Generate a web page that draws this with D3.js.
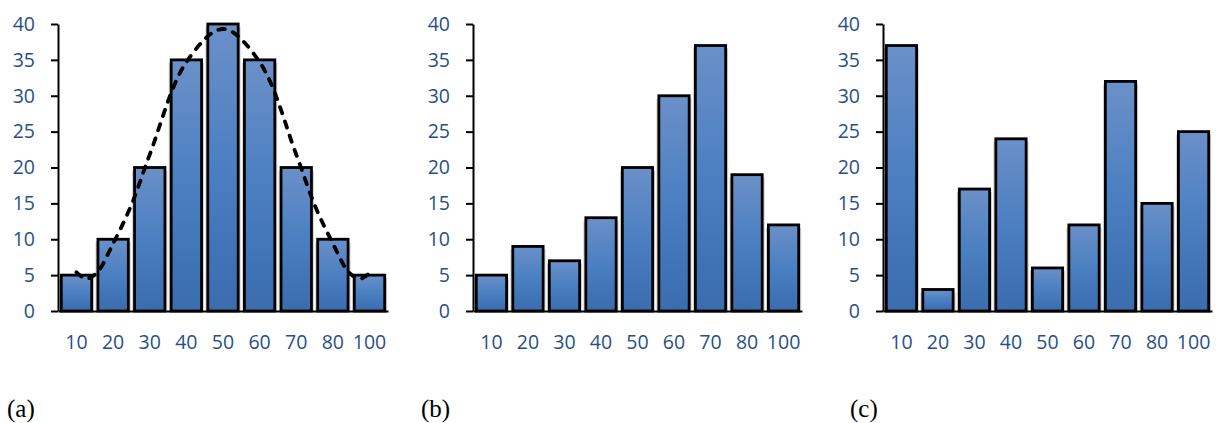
<!DOCTYPE html>
<html>
<head>
<meta charset="utf-8">
<script src="https://cdn.jsdelivr.net/npm/d3@7"></script>
<style>
  html, body { margin: 0; padding: 0; background: #fff; }
  svg { display: block; }
  .tick text { font-family: "Open Sans", sans-serif; font-size: 19.5px; fill: #27508a; }
  .caption { font-family: "Liberation Serif", "Times New Roman", serif; font-size: 25px; fill: #000; }
</style>
</head>
<body>
<div id="chart"></div>
<script>
// ---- data ----
const categories = ['10', '20', '30', '40', '50', '60', '70', '80', '100'];
const valuesA = [5, 10, 20, 35, 40, 35, 20, 10, 5];
const valuesB = [5, 9, 7, 13, 20, 30, 37, 19, 12];
const valuesC = [37, 3, 17, 24, 6, 12, 32, 15, 25];
const yTicks = [0, 5, 10, 15, 20, 25, 30, 35, 40];
const captions = ['(a)', '(b)', '(c)'];

// dashed fit line in panel (a): position in category index units, value
const fitPos  = [0, 0.25, 0.55, 1, 1.5, 2, 3, 4, 5, 6, 6.5, 7, 7.45, 7.75, 8];
const fitVals = [5.4, 4.5, 5.3, 9.4, 14.8, 21.8, 34.7, 39.3, 34.7, 21.8, 14.8, 9.4, 5.3, 4.5, 5.3];

const W = 1221, H = 423;
const plotTop = 24, plotBottom = 311;

const panels = [
  { values: valuesA, left: 58,  right: 388, capX: 7,   fit: true },
  { values: valuesB, left: 473, right: 802, capX: 421, fit: false },
  { values: valuesC, left: 883, right: 1212, capX: 850, fit: false },
];

const svg = d3.select('#chart').append('svg')
  .attr('width', W)
  .attr('height', H)
  .attr('viewBox', [0, 0, W, H]);

// bar gradient, lighter on top
const grad = svg.append('defs').append('linearGradient')
  .attr('id', 'barFill')
  .attr('x1', 0).attr('y1', 0).attr('x2', 0).attr('y2', 1);
grad.append('stop').attr('offset', '0%').attr('stop-color', '#6b90c8');
grad.append('stop').attr('offset', '50%').attr('stop-color', '#4a7fc1');
grad.append('stop').attr('offset', '100%').attr('stop-color', '#3a6cae');

const y = d3.scaleLinear().domain([0, 40]).range([plotBottom, plotTop]);

panels.forEach((p, pi) => {
  const g = svg.append('g').attr('class', 'panel');

  const x = d3.scaleBand()
    .domain(categories)
    .range([p.left, p.right])
    .paddingInner(0.17)
    .paddingOuter(0.09);

  const data = categories.map((c, i) => ({ cat: c, v: p.values[i] }));

  // light grey glow between bars
  g.append('g').selectAll('rect')
    .data(data)
    .join('rect')
      .attr('x', d => x(d.cat) - 2.5)
      .attr('y', d => y(d.v) + 3)
      .attr('width', x.bandwidth() + 5)
      .attr('height', d => plotBottom - y(d.v) - 3)
      .attr('fill', '#d4d4d4');

  g.append('g').selectAll('rect')
    .data(data)
    .join('rect')
      .attr('x', d => x(d.cat))
      .attr('y', d => y(d.v))
      .attr('width', x.bandwidth())
      .attr('height', d => plotBottom - y(d.v))
      .attr('fill', 'url(#barFill)')
      .attr('stroke', '#000')
      .attr('stroke-width', 2.8);

  // y axis
  const yAxis = g.append('g')
    .attr('transform', `translate(${p.left},0)`)
    .call(d3.axisLeft(y).tickValues(yTicks).tickSize(7).tickSizeOuter(0).tickPadding(16));
  yAxis.select('.domain').attr('stroke', '#000').attr('stroke-width', 2);
  yAxis.selectAll('.tick line').attr('stroke', '#000').attr('stroke-width', 2);

  // x axis
  const xAxis = g.append('g')
    .attr('transform', `translate(0,${plotBottom})`)
    .call(d3.axisBottom(x).tickSize(0).tickSizeOuter(0).tickPadding(24));
  xAxis.select('.domain').attr('stroke', '#000').attr('stroke-width', 2);

  if (p.fit) {
    const step = x.step();
    const x0 = x(categories[0]) + x.bandwidth() / 2;
    const pts = fitPos.map((ps, i) => [x0 + ps * step, y(fitVals[i])]);
    g.append('path')
      .datum(pts)
      .attr('fill', 'none')
      .attr('stroke', '#000')
      .attr('stroke-width', 3.8)
      .attr('stroke-linecap', 'round')
      .attr('stroke-dasharray', '6.5,8.5')
      .attr('d', d3.line().curve(d3.curveCatmullRom.alpha(0.5)));
  }

  svg.append('text')
    .attr('class', 'caption')
    .attr('x', p.capX)
    .attr('y', 417)
    .text(captions[pi]);
});
</script>
</body>
</html>
